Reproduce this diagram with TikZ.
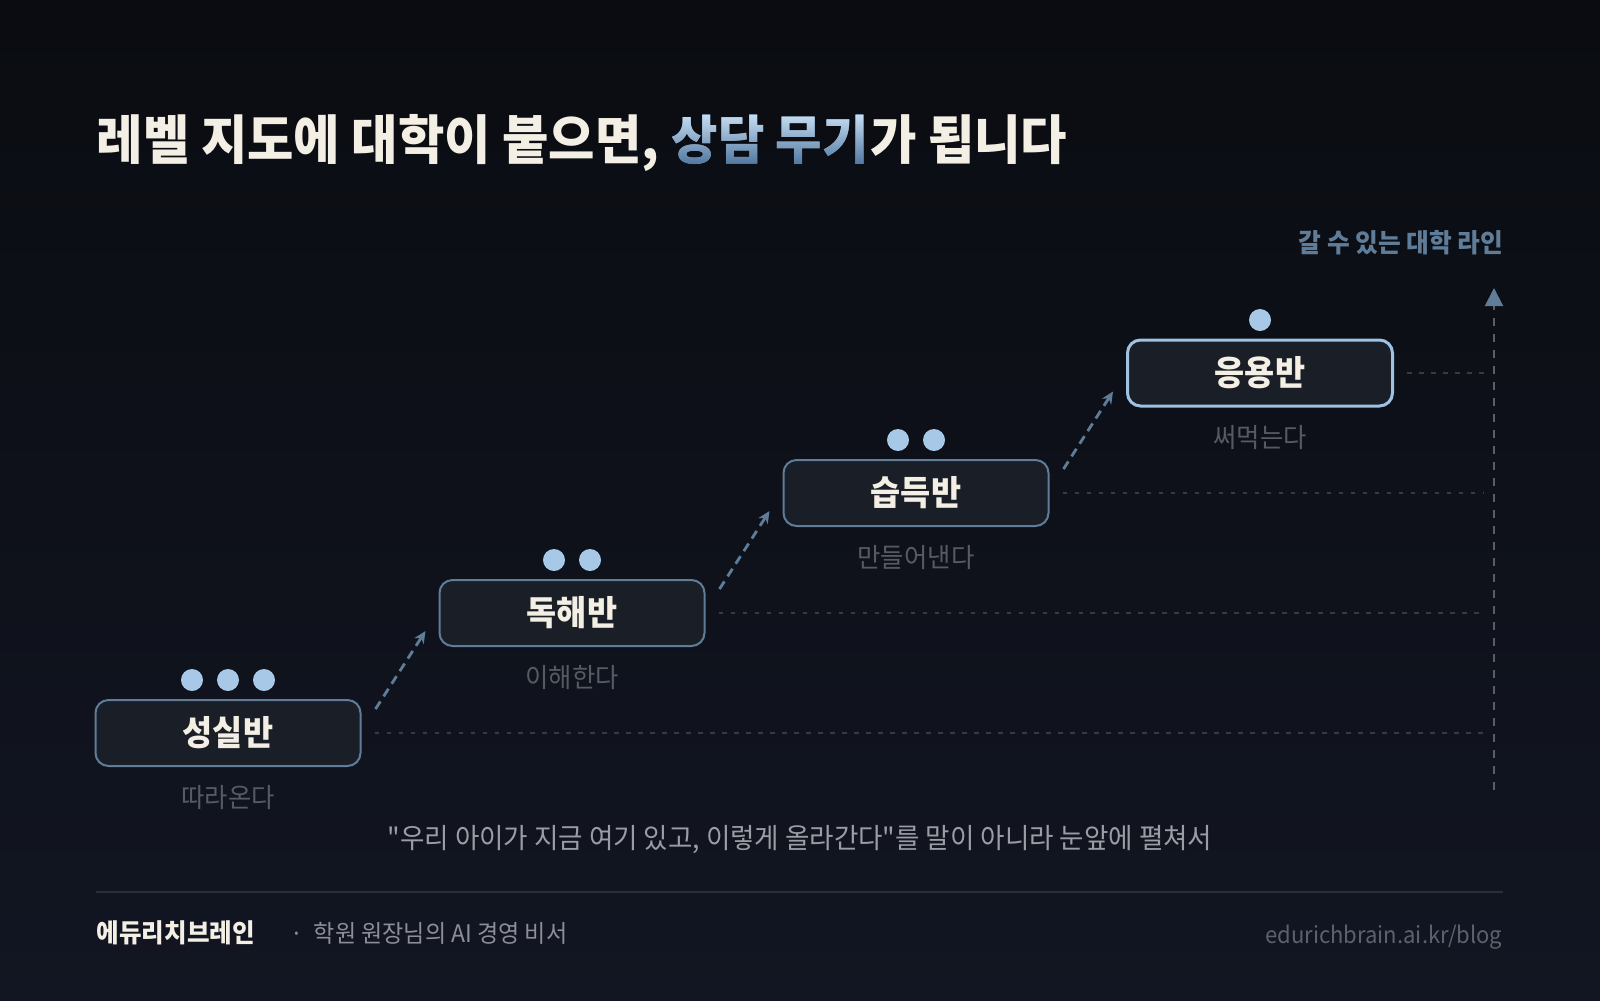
\documentclass[tikz,border=0pt]{standalone}
\usepackage{fontspec}
\setmainfont{Noto Sans CJK KR}[FakeStretch=0.95]
\newfontfamily\capfont{Noto Sans CJK KR}[FakeStretch=0.95]
\newfontfamily\titlefont{Noto Sans CJK KR}[UprightFont=* Black, FakeStretch=0.95]
\usetikzlibrary{calc,arrows.meta,fadings}
\definecolor{bgtop}{HTML}{0A0C11}
\definecolor{bgbot}{HTML}{121622}
\definecolor{cream}{HTML}{F4EFE4}
\definecolor{steel}{HTML}{5F7C98}
\definecolor{accent}{HTML}{9DC2E3}
\definecolor{boxfill}{HTML}{1A1E27}
\definecolor{dotc}{HTML}{A7C8E6}
\definecolor{subgray}{HTML}{575A62}
\definecolor{capgray}{HTML}{9A9DA4}
\definecolor{guide}{HTML}{363A44}
\definecolor{axisgray}{HTML}{5A5D64}
\definecolor{rulec}{HTML}{2A2E38}
\definecolor{footgray}{HTML}{8C8F97}
\definecolor{urlgray}{HTML}{5D616C}
\definecolor{tbmid}{HTML}{8CB0D3}
\definecolor{tbtop}{HTML}{C4DBF0}
\definecolor{tbbot}{HTML}{5279A1}
\begin{tikzfadingfrompicture}[name=bluefade]
  \node[inner sep=0, text=transparent!0, font=\titlefont\fontsize{15.1pt}{17pt}\selectfont] {상담 무기};
\end{tikzfadingfrompicture}
\begin{document}
\begin{tikzpicture}[x=0.1mm, y=-0.1mm,
  lvl/.style={draw=steel, line width=0.2mm, fill=boxfill, rounded corners=1.3mm,
    minimum width=26.5mm, minimum height=6.6mm, inner sep=0, text=cream,
    font=\bfseries\fontsize{9.8pt}{11pt}\selectfont},
  lvltop/.style={lvl, draw=accent, line width=0.3mm},
  subtxt/.style={inner sep=0, text=subgray, font=\fontsize{7.6pt}{9pt}\selectfont},
  bead/.style={circle, fill=dotc, minimum size=2.2mm, inner sep=0},
  guideline/.style={draw=guide, line width=0.15mm, dash pattern=on 0.45mm off 0.75mm},
  climb/.style={draw=steel, line width=0.28mm, dash pattern=on 0.9mm off 0.6mm,
    -{Stealth[length=1.2mm, width=1.1mm]}},
  axisline/.style={draw=axisgray, line width=0.2mm, dash pattern=on 0.8mm off 0.8mm,
    -{Triangle[length=1.8mm, width=1.8mm, color=steel]}},
  titletxt/.style={inner sep=0, font=\titlefont\fontsize{15.1pt}{17pt}\selectfont}
]
\shade[top color=bgtop, bottom color=bgbot] (0,0) rectangle (1600,1000);
\useasboundingbox (0,0) rectangle (1600,1000);

% title
\node[titletxt, text=cream, anchor=west] (t1) at (96,143) {레벨 지도에 대학이 붙으면,};
\node[titletxt, text=tbmid, anchor=base west] (t2) at ($(t1.base east)+(11,0)$) {상담 무기};
\node[titletxt, text=cream, anchor=base west] (t3) at (t2.base east) {가 됩니다};
\begin{scope}[transform canvas={shift={(t2.center)}}]
  \shade[path fading=bluefade, fit fading=false, top color=tbtop, bottom color=tbbot]
    (-150,-24) rectangle (150,24);
\end{scope}

% axis
\coordinate (axbot) at (1494,790);
\coordinate (axtop) at (1494,288);
\draw[axisline] (axbot) -- (axtop);
\node[anchor=east, inner sep=0, text=steel, font=\bfseries\fontsize{7.4pt}{9pt}\selectfont] (axlab) at (1504,243) {갈 수 있는 대학 라인};

% level boxes
\node[lvl] (b1) at (228,733) {성실반};
\node[lvl] (b2) at (572,613) {독해반};
\node[lvl] (b3) at (916,493) {습득반};
\node[lvltop] (b4) at (1260,373) {응용반};

% subtitles
\node[subtxt] (s1) at (228,797) {따라온다};
\node[subtxt] (s2) at (572,677) {이해한다};
\node[subtxt] (s3) at (916,557) {만들어낸다};
\node[subtxt] (s4) at (1260,437) {써먹는다};

% dots
\node[bead] (d11) at (192,680) {};
\node[bead] (d12) at (228,680) {};
\node[bead] (d13) at (264,680) {};
\node[bead] (d21) at (554,560) {};
\node[bead] (d22) at (590,560) {};
\node[bead] (d31) at (898,440) {};
\node[bead] (d32) at (934,440) {};
\node[bead] (d41) at (1260,320) {};

% guide lines
\coordinate (g1) at (1484,733);
\coordinate (g2) at (1484,613);
\coordinate (g3) at (1484,493);
\coordinate (g4) at (1484,373);
\draw[guideline] ($(b1.east)+(13,0)$) -- (g1);
\draw[guideline] ($(b2.east)+(13,0)$) -- (g2);
\draw[guideline] ($(b3.east)+(13,0)$) -- (g3);
\draw[guideline] ($(b4.east)+(13,0)$) -- (g4);

% climbing arrows
\draw[climb] ($(b1.north east)+(14,10)$) -- ($(b2.south west)+(-13,-16)$);
\draw[climb] ($(b2.north east)+(14,10)$) -- ($(b3.south west)+(-13,-16)$);
\draw[climb] ($(b3.north east)+(14,10)$) -- ($(b4.south west)+(-13,-16)$);

% caption
\node[inner sep=0, text=capgray, font=\capfont\fontsize{7.95pt}{9pt}\selectfont] (cap) at (800,840)
  {"우리 아이가 지금 여기 있고, 이렇게 올라간다"를 말이 아니라 눈앞에 펼쳐서};

% footer
\coordinate (r1) at (96,892);
\coordinate (r2) at (1503,892);
\draw[draw=rulec, line width=0.2mm] (r1) -- (r2);
\node[anchor=west, inner sep=0, text=cream, font=\bfseries\fontsize{7.35pt}{9pt}\selectfont] (brand) at (96,933) {에듀리치브레인};
\node[anchor=west, inner sep=0, text=footgray, font=\fontsize{6.9pt}{9pt}\selectfont] (tag) at (290,933) {·\ \ 학원 원장님의 AI 경영 비서};
\node[anchor=east, inner sep=0, text=urlgray, font=\fontsize{6.6pt}{9pt}\selectfont] (url) at (1503,937) {edurichbrain.ai.kr/blog};
\end{tikzpicture}
\end{document}
